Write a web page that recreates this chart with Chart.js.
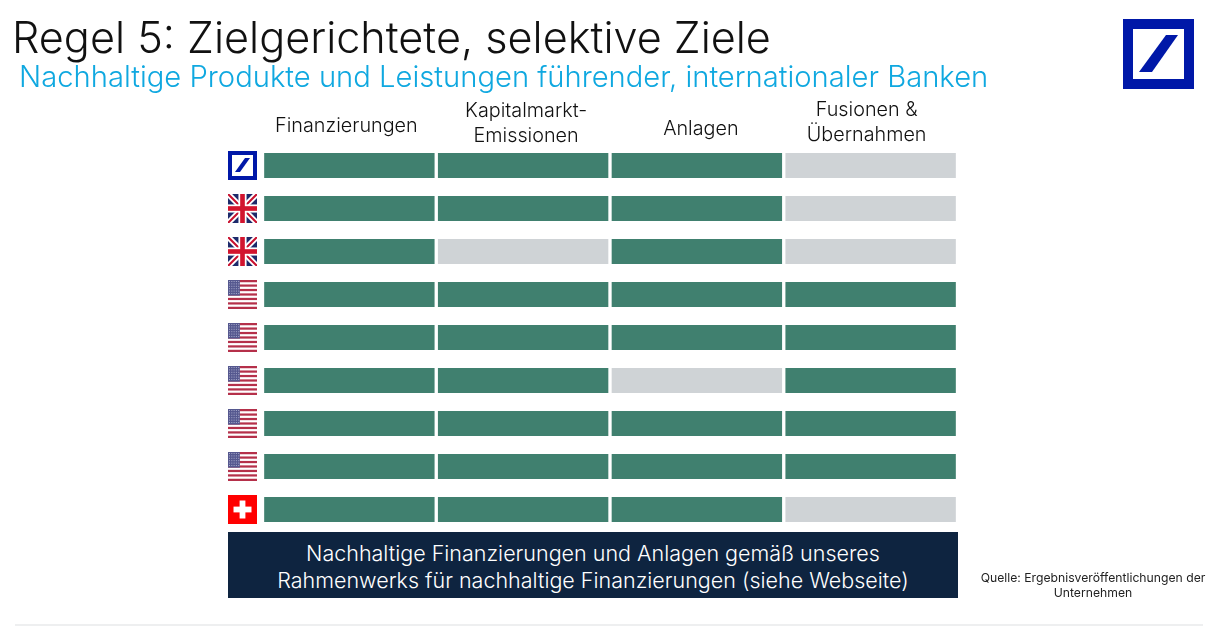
<!DOCTYPE html>
<html lang="de">
<head>
<meta charset="utf-8">
<title>Regel 5: Zielgerichtete, selektive Ziele</title>
<script src="https://cdn.jsdelivr.net/npm/chart.js@4"></script>
<style>
html,body{margin:0;padding:0;background:#fff;width:1223px;height:629px;overflow:hidden;font-family:Inter,sans-serif}
#c{position:absolute;left:0;top:0}
.t{position:absolute;white-space:nowrap}
#title{left:12px;top:12px;font-size:43.2px;line-height:50px;font-weight:300;color:#111}
#sub{left:19px;top:60px;font-size:29.2px;line-height:34px;font-weight:300;color:#0fa8e0}
#box{position:absolute;left:228px;top:532px;width:730px;height:66px;background:#0e2440;color:#fff;font-size:21.5px;line-height:27px;font-weight:300;text-align:center;padding-top:8px;box-sizing:border-box}
#src{position:absolute;left:951px;top:570px;width:284px;font-size:12.2px;line-height:15px;text-align:center;color:#222}
#rule{position:absolute;left:15px;top:624px;width:1188px;height:2px;background:#eeeff0}
#logo{position:absolute;left:1123px;top:19px}
</style>
</head>
<body>
<canvas id="c" width="1223" height="629"></canvas>
<div class="t" id="title">Regel 5: Zielgerichtete, selektive Ziele</div>
<div class="t" id="sub">Nachhaltige Produkte und Leistungen führender, internationaler Banken</div>
<div id="box">Nachhaltige Finanzierungen und Anlagen gemäß unseres<br>Rahmenwerks für nachhaltige Finanzierungen (siehe Webseite)</div>
<div id="src">Quelle: Ergebnisveröffentlichungen der<br>Unternehmen</div>
<div id="rule"></div>
<svg id="logo" width="71" height="70" viewBox="0 0 71 70"><rect width="71" height="70" fill="#0018a8"/><rect x="10" y="10" width="51" height="50" fill="#fff"/><polygon points="16,53 29,53 55,16 43,16" fill="#0018a8"/></svg>
<script>
const rows = ["DB","UK","UK","US","US","US","US","US","CH"];
const columns = ["Finanzierungen",["Kapitalmarkt-","Emissionen"],"Anlagen",["Fusionen &","Übernahmen"]];
const finanzierungen = [1,1,1,1,1,1,1,1,1];
const emissionen     = [1,1,0,1,1,1,1,1,1];
const anlagen        = [1,1,1,1,1,0,1,1,1];
const fusionen       = [0,0,0,1,1,1,1,1,0];
const GREEN = "#40806f", GREY = "#cfd3d6";
const headerNudgeX = [-3,3,4,-4];
const headerNudgeY = [3,1,6,0];

function flagDB(g,x,y,s){
  g.fillStyle="#0018a8";g.fillRect(x,y,s,s);
  g.fillStyle="#fff";g.fillRect(x+4,y+4,s-8,s-8);
  g.fillStyle="#0018a8";g.beginPath();
  g.moveTo(x+7,y+21);g.lineTo(x+12,y+21);g.lineTo(x+22,y+7);g.lineTo(x+17,y+7);g.closePath();g.fill();
}
function flagUK(g,x,y,s){
  g.save();g.beginPath();g.rect(x,y,s,s);g.clip();
  g.fillStyle="#1d2a6b";g.fillRect(x,y,s,s);
  g.strokeStyle="#fff";g.lineWidth=s*0.2;g.beginPath();
  g.moveTo(x,y);g.lineTo(x+s,y+s);g.moveTo(x+s,y);g.lineTo(x,y+s);g.stroke();
  g.strokeStyle="#c8102e";g.lineWidth=s*0.07;g.beginPath();
  g.moveTo(x,y);g.lineTo(x+s,y+s);g.moveTo(x+s,y);g.lineTo(x,y+s);g.stroke();
  g.fillStyle="#fff";g.fillRect(x+s*0.36,y,s*0.28,s);g.fillRect(x,y+s*0.36,s,s*0.28);
  g.fillStyle="#d2142e";g.fillRect(x+s*0.42,y,s*0.16,s);g.fillRect(x,y+s*0.42,s,s*0.16);
  g.restore();
}
function flagUS(g,x,y,s){
  const h=s/13;
  g.fillStyle="#fff";g.fillRect(x,y,s,s);
  g.fillStyle="#b5304a";
  for(let i=0;i<13;i+=2)g.fillRect(x,y+i*h,s,h);
  g.fillStyle="#55588f";g.fillRect(x,y,s*0.41,h*7);
  g.fillStyle="#a9abcb";
  for(let r=0;r<6;r++)for(let c=0;c<5;c++)g.fillRect(x+1+c*2.3,y+1+r*2.4,1,1);
}
function flagCH(g,x,y,s){
  g.fillStyle="#ff0000";g.fillRect(x,y,s,s);
  g.fillStyle="#fff";
  g.fillRect(x+s*0.4,y+s*0.19,s*0.2,s*0.62);
  g.fillRect(x+s*0.19,y+s*0.4,s*0.62,s*0.2);
}
const drawFlag={DB:flagDB,UK:flagUK,US:flagUS,CH:flagCH};

const flagPlugin={
  id:"flags",
  afterDatasetsDraw(chart){
    const g=chart.ctx,ys=chart.scales.y,size=29,x=228;
    rows.forEach((code,i)=>{
      const cy=ys.getPixelForValue(i);
      drawFlag[code](g,x,Math.round(cy-size/2),size);
    });
  }
};
const headerPlugin={
  id:"headers",
  beforeDraw(chart){
    const items=chart.scales.x2.getLabelItems(chart.chartArea);
    items.forEach((it,i)=>{
      it.options.translation[0]+=headerNudgeX[i];
      it.options.translation[1]+=headerNudgeY[i];
    });
  }
};
const series=[finanzierungen,emissionen,anlagen,fusionen];
new Chart(document.getElementById("c"),{
  type:"bar",
  data:{
    labels:rows,
    datasets:series.map((s,i)=>({
      label:Array.isArray(columns[i])?columns[i].join(" "):columns[i],
      data:s.map(()=>1),
      backgroundColor:s.map(v=>v?GREEN:GREY),
      borderColor:"#ffffff",
      borderWidth:{left:2,right:2,top:0,bottom:0},
      borderSkipped:false,
      barThickness:25
    }))
  },
  options:{
    indexAxis:"y",
    responsive:false,
    animation:false,
    events:[],
    layout:{padding:{left:262.5,right:265.5,top:90,bottom:98}},
    plugins:{legend:{display:false},tooltip:{enabled:false},title:{display:false}},
    scales:{
      x:{stacked:true,min:0,max:4,display:false},
      y:{stacked:true,display:false},
      x2:{
        type:"category",axis:"x",position:"top",labels:columns,offset:true,
        grid:{display:false,drawTicks:false},border:{display:false},
        ticks:{color:"#111",font:{family:"Inter",size:19.8,weight:"300",lineHeight:1.26},
          autoSkip:false,maxRotation:0,minRotation:0,crossAlign:"center",padding:8.5},
        afterFit(s){s.height=54;}
      }
    }
  },
  plugins:[flagPlugin,headerPlugin]
});
</script>
</body>
</html>
